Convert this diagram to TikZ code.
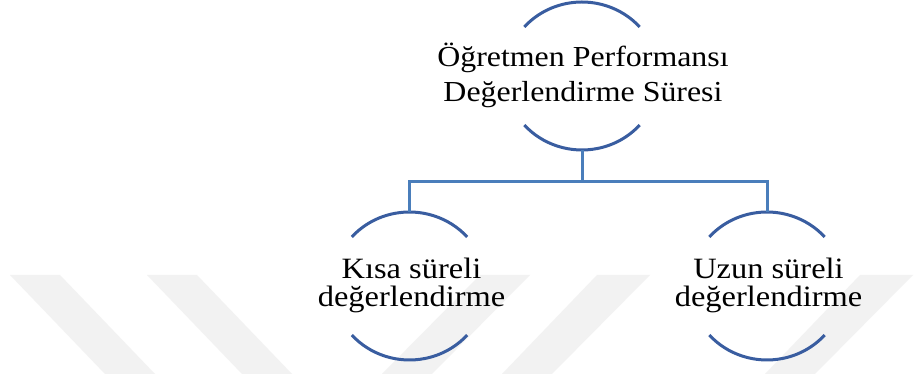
\documentclass[tikz,border=0pt]{standalone}
\usepackage{fontspec}
\setmainfont{Liberation Serif}[FakeStretch=1.1]
\usetikzlibrary{shapes.geometric}
\definecolor{arcblue}{RGB}{57,93,160}
\definecolor{connblue}{RGB}{74,126,187}
\definecolor{wmgray}{RGB}{242,242,242}
\tikzset{
  circ/.style={ellipse, minimum width=154pt, minimum height=148pt, inner sep=0pt},
  arcline/.style={draw=arcblue, line width=3pt},
  conn/.style={draw=connblue, line width=3pt},
  toptxt/.style={font=\fontsize{29}{32}\selectfont, anchor=base, inner sep=0pt},
  kidtxt/.style={font=\fontsize{29.5}{32}\selectfont, anchor=base, inner sep=0pt},
  wm/.style={fill=wmgray, draw=none}
}
\begin{document}
\begin{tikzpicture}[x=1pt,y=1pt]
\useasboundingbox (0,0) rectangle (914,374);
\fill[white] (0,0) rectangle (914,374);
% watermark stripes
\begin{scope}
\clip (0,0) rectangle (914,374);
\fill[wm] (10,99) -- (60,99) -- (155,0) -- (105,0) -- cycle;
\fill[wm] (147,99) -- (197,99) -- (292,0) -- (242,0) -- cycle;
\fill[wm] (480,99) -- (530,99) -- (432,0) -- (382,0) -- cycle;
\fill[wm] (597,99) -- (650,99) -- (552,0) -- (502,0) -- cycle;
\fill[wm] (860,99) -- (913,99) -- (815,0) -- (765,0) -- cycle;
\end{scope}
% circle holders
\node[circ] (top) at (582,298) {};
\node[circ] (left) at (409.5,88) {};
\node[circ] (right) at (767,88) {};
% arcs
\foreach \n in {top,left,right}{
  \draw[arcline] ([shift={(41.5:77pt and 74pt)}]\n.center) arc[start angle=41.5, end angle=138.5, x radius=77pt, y radius=74pt];
  \draw[arcline] ([shift={(221.5:77pt and 74pt)}]\n.center) arc[start angle=221.5, end angle=318.5, x radius=77pt, y radius=74pt];
}
% texts
\node[toptxt] (t1) at (583,307.3) {Öğretmen Performansı};
\node[toptxt] (t2) at (583,272.3) {Değerlendirme Süresi};
\node[kidtxt] (l1) at (411.5,95.7) {Kısa süreli};
\node[kidtxt] (l2) at (411.5,67.3) {değerlendirme};
\node[kidtxt] (r1) at (768.5,95.7) {Uzun süreli};
\node[kidtxt] (r2) at (768.5,67.3) {değerlendirme};
% connectors
\coordinate (j) at (582,192);
\draw[conn] (top.south) -- (j);
\draw[conn] (left.north) |- (j) -| (right.north);
\end{tikzpicture}
\end{document}
